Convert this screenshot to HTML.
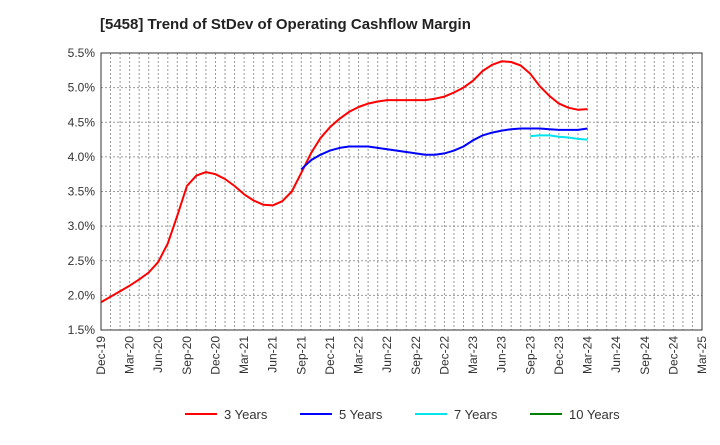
<!DOCTYPE html>
<html><head><meta charset="utf-8"><style>
body{margin:0;background:#fff;font-family:"Liberation Sans",Arial,sans-serif;}
svg text{font-family:"Liberation Sans",Arial,sans-serif;}
</style></head><body>
<svg id="c" width="720" height="440" xmlns="http://www.w3.org/2000/svg">
<text x="100" y="29" font-size="15" font-weight="bold" fill="#222">[5458]  Trend of StDev of Operating Cashflow Margin</text>
<g id="grid"></g><g id="axes"></g><g id="series"></g><g id="legend"></g>
</svg>
<script>
const xLabels=["Dec-19","Mar-20","Jun-20","Sep-20","Dec-20","Mar-21","Jun-21","Sep-21","Dec-21","Mar-22","Jun-22","Sep-22","Dec-22","Mar-23","Jun-23","Sep-23","Dec-23","Mar-24","Jun-24","Sep-24","Dec-24","Mar-25"];
const yTicks=[1.5,2.0,2.5,3.0,3.5,4.0,4.5,5.0,5.5];
const red3=[1.90,1.98,2.06,2.14,2.23,2.33,2.48,2.75,3.15,3.58,3.73,3.78,3.75,3.68,3.58,3.46,3.37,3.31,3.30,3.36,3.50,3.77,4.05,4.27,4.43,4.55,4.65,4.72,4.77,4.80,4.82,4.82,4.82,4.82,4.82,4.84,4.87,4.93,5.00,5.10,5.24,5.33,5.38,5.37,5.32,5.20,5.02,4.88,4.77,4.71,4.68,4.69];
const blue5Start=21;
const blue5=[3.82,3.95,4.03,4.09,4.13,4.15,4.15,4.15,4.13,4.11,4.09,4.07,4.05,4.03,4.03,4.05,4.09,4.15,4.24,4.31,4.35,4.38,4.40,4.41,4.41,4.41,4.40,4.39,4.39,4.39,4.41];
const cyan7Start=45;
const cyan7=[4.30,4.31,4.31,4.29,4.28,4.26,4.25];
const NS="http://www.w3.org/2000/svg";
const L=101,R=702,T=53,B=330,months=63;
const xs=i=>L+(R-L)*i/months;
const ys=v=>B-(v-1.5)/(5.5-1.5)*(B-T);
function mk(tag,attrs,parent){const e=document.createElementNS(NS,tag);for(const k in attrs)e.setAttribute(k,attrs[k]);parent.appendChild(e);return e;}
const grid=document.getElementById('grid'),axes=document.getElementById('axes'),ser=document.getElementById('series'),leg=document.getElementById('legend');
for(let i=1;i<months;i++){const l=mk('line',{x1:xs(i),x2:xs(i),y1:T,y2:B,stroke:'#999','stroke-dasharray':'2,2','stroke-width':1},grid);

}
yTicks.forEach(v=>{const l=mk('line',{x1:L,x2:R,y1:ys(v),y2:ys(v),stroke:'#999','stroke-dasharray':'2,2','stroke-width':1},grid);


const t=mk('text',{x:L-6,y:ys(v)+4,'text-anchor':'end','font-size':12,fill:'#333'},axes);t.textContent=v.toFixed(1)+'%';

});
const fr=mk('rect',{x:L,y:T,width:R-L,height:B-T,fill:'none',stroke:'#333','stroke-width':1},axes);


xLabels.forEach((s,k)=>{const x=xs(k*3);const t=mk('text',{x:x+4,y:B+6,'text-anchor':'end','font-size':12,fill:'#333',transform:`rotate(-90 ${x+4} ${B+6})`},axes);t.textContent=s;

});
function line(vals,start,color,name){const p=vals.map((v,i)=>(i?'L':'M')+xs(start+i).toFixed(1)+','+ys(v).toFixed(1)).join('');
const e=mk('path',{d:p,fill:'none',stroke:color,'stroke-width':2,'stroke-linejoin':'round'},ser);

}
line(red3,0,'#ff0000','line-3-years');
line(blue5,blue5Start,'#0000ff','line-5-years');
line(cyan7,cyan7Start,'#00e5ee','line-7-years');
const items=[['3 Years','#ff0000',185],['5 Years','#0000ff',300],['7 Years','#00e5ee',415],['10 Years','#008000',530]];
items.forEach(([n,c,x])=>{const g=mk('g',{},leg);


mk('line',{x1:x,x2:x+32,y1:414,y2:414,stroke:c,'stroke-width':2},g);
const t=mk('text',{x:x+39,y:419,'font-size':13,fill:'#333'},g);t.textContent=n;});
</script>
</body></html>
